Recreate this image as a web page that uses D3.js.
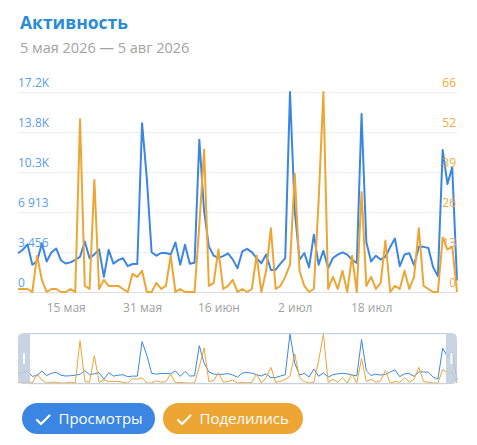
<!DOCTYPE html>
<html>
<head>
<meta charset="utf-8">
<script src="https://cdn.jsdelivr.net/npm/d3@7"></script>
<style>
  html, body { margin: 0; padding: 0; background: #fff; }
  svg { display: block; font-family: "Open Sans", "Noto Sans", sans-serif; }
</style>
</head>
<body>
<svg id="chart" width="477" height="445"></svg>
<script>
// ---- data ----
const title = "Активность";
const subtitle = "5 мая 2026 — 5 авг 2026";
const startDate = "2026-05-05";
const seriesNames = ["Просмотры", "Поделились"];
const views = [3350, 3650, 4120, 2350, 2650, 4200, 2630, 3420, 3760, 2740,
  2460, 2560, 2780, 3040, 4360, 2920, 3250, 3670, 1310, 3640,
  2450, 2750, 2920, 2230, 2420, 2420, 14590, 9800, 3430, 3140,
  3370, 3370, 3240, 4280, 2350, 4080, 2450, 2520, 13150, 7000,
  3930, 3140, 2950, 3100, 3330, 2820, 2050, 3500, 3730, 3450,
  2920, 2490, 3240, 1900, 1930, 2450, 2920, 17282, 7000, 2790,
  3370, 2130, 4950, 2360, 3570, 2070, 2940, 3230, 3430, 3230,
  2790, 2510, 15380, 4290, 2640, 3140, 2800, 3050, 3880, 4620,
  2230, 3240, 3350, 2320, 3900, 3900, 3810, 2130, 1370, 12280,
  9330, 10770, 1000];
const shares = [1, 1, 1, 0, 12, 4, 0, 1, 1, 0,
  0, 1, 0, 57, 2, 1, 37, 1, 4, 2,
  2, 2, 1, 0, 6, 5, 7, 0, 0, 3,
  1, 2, 12, 0, 1, 0, 0, 0, 22, 47,
  2, 3, 14, 1, 2, 4, 0, 1, 0, 1,
  12, 0, 7, 21, 1, 2, 5, 9, 39, 7,
  2, 0, 1, 30, 66, 1, 5, 1, 7, 0,
  12, 0, 33, 2, 5, 1, 3, 17, 0, 2,
  1, 7, 1, 5, 21, 2, 1, 0, 0, 18,
  14, 15, 0];
const xTickDates = ["2026-05-15", "2026-05-31", "2026-06-16", "2026-07-02", "2026-07-18"];
const xTickLabels = ["15 мая", "31 мая", "16 июн", "2 июл", "18 июл"];
const leftTickLabels = ["0", "3 456", "6 913", "10.3K", "13.8K", "17.2K"];
const rightTickLabels = ["0", "13", "26", "39", "52", "66"];

// ---- styles ----
const blue = "#3b86e2", orange = "#eda533";
const svg = d3.select("#chart");
const plot = {left: 18, right: 457, top: 92, bottom: 292};
const nav = {top: 333, bottom: 384, left: 18, right: 457};

const parse = d3.utcParse("%Y-%m-%d");
const t0 = parse(startDate);
const dates = views.map((_, i) => d3.utcDay.offset(t0, i));

const x = d3.scaleUtc().domain([dates[0], dates[dates.length - 1]]).range([plot.left, plot.right]);
const leftMax = d3.max(views), rightMax = d3.max(shares);
const yL = d3.scaleLinear().domain([0, leftMax]).range([plot.bottom, plot.top]);
const yR = d3.scaleLinear().domain([0, rightMax]).range([plot.bottom, plot.top]);

// title
svg.append("text").attr("x", 20).attr("y", 29).text(title)
  .attr("font-size", 17.5).attr("font-weight", 700).attr("fill", "#2a8bd6");
svg.append("text").attr("x", 20).attr("y", 53).text(subtitle)
  .attr("font-size", 14.5).attr("fill", "#a3a3a3");

// gridlines
const leftTicks = d3.range(6).map(k => k * leftMax / 5);
const rightTicks = d3.range(6).map(k => k * rightMax / 5);
svg.append("g").selectAll("line").data(leftTicks).join("line")
  .attr("x1", plot.left).attr("x2", plot.right)
  .attr("y1", d => Math.round(yL(d)) + 0.5).attr("y2", d => Math.round(yL(d)) + 0.5)
  .attr("stroke", (d, i) => i === 0 ? "#dedede" : "#eeeeee").attr("stroke-width", 1);

// lines
const lineL = d3.line().x((d, i) => x(dates[i])).y(d => yL(d));
const lineR = d3.line().x((d, i) => x(dates[i])).y(d => yR(d));
svg.append("path").datum(views).attr("d", lineL).attr("fill", "none")
  .attr("stroke", blue).attr("stroke-width", 2).attr("stroke-linejoin", "round");
svg.append("path").datum(shares).attr("d", lineR).attr("fill", "none")
  .attr("stroke", orange).attr("stroke-width", 2).attr("stroke-linejoin", "round");

// left axis labels
const axL = d3.axisRight(yL).tickValues(leftTicks).tickSize(0)
  .tickFormat((d, i) => leftTickLabels[i]);
const gL = svg.append("g").attr("transform", `translate(${plot.left},0)`).call(axL);
gL.select(".domain").remove();
gL.selectAll("text").attr("x", 0).attr("dy", "-6px").attr("text-anchor", "start")
  .attr("fill", "#5a9cec").attr("font-size", 12).attr("font-family", "Open Sans");

const axR = d3.axisLeft(yR).tickValues(rightTicks).tickSize(0)
  .tickFormat((d, i) => rightTickLabels[i]);
const gR = svg.append("g").attr("transform", `translate(${plot.right - 1},0)`).call(axR);
gR.select(".domain").remove();
gR.selectAll("text").attr("x", 0).attr("dy", "-6px").attr("text-anchor", "end")
  .attr("fill", "#f0ab45").attr("font-size", 12).attr("font-family", "Open Sans");

// x axis
const axX = d3.axisBottom(x).tickValues(xTickDates.map(parse)).tickSize(0)
  .tickFormat((d, i) => xTickLabels[i]);
const gX = svg.append("g").attr("transform", `translate(0,${plot.bottom})`).call(axX);
gX.select(".domain").remove();
gX.selectAll("text").attr("y", 0).attr("dy", "20px").attr("fill", "#a0a0a0")
  .attr("font-size", 12).attr("font-family", "Open Sans");

// navigator
const yNL = d3.scaleLinear().domain([0, leftMax]).range([nav.bottom - 1, nav.top + 1]);
const yNR = d3.scaleLinear().domain([0, rightMax]).range([nav.bottom - 1, nav.top + 1]);
const xN = x.copy().range([nav.left, nav.right]);
svg.append("path").datum(views)
  .attr("d", d3.line().x((d, i) => xN(dates[i])).y(d => yNL(d)))
  .attr("fill", "none").attr("stroke", blue).attr("stroke-width", 1);
svg.append("path").datum(shares)
  .attr("d", d3.line().x((d, i) => xN(dates[i])).y(d => yNR(d)))
  .attr("fill", "none").attr("stroke", orange).attr("stroke-width", 1);

const hL = 30, hR = 446;
const handleFill = "rgb(190,205,221)";
svg.append("rect").attr("x", hL).attr("y", nav.top).attr("width", hR - hL).attr("height", 1.2)
  .attr("fill", handleFill).attr("opacity", 0.9);
svg.append("rect").attr("x", hL).attr("y", nav.bottom - 1).attr("width", hR - hL).attr("height", 1.2)
  .attr("fill", handleFill).attr("opacity", 0.9);
function handle(x0, x1, leftSide) {
  const r = 6, t = nav.top, b = nav.bottom;
  let p;
  if (leftSide) {
    p = `M${x1},${t} L${x0 + r},${t} Q${x0},${t} ${x0},${t + r} L${x0},${b - r} Q${x0},${b} ${x0 + r},${b} L${x1},${b} Z`;
  } else {
    p = `M${x0},${t} L${x1 - r},${t} Q${x1},${t} ${x1},${t + r} L${x1},${b - r} Q${x1},${b} ${x1 - r},${b} L${x0},${b} Z`;
  }
  svg.append("path").attr("d", p).attr("fill", handleFill).attr("opacity", 0.85);
  const cx = (x0 + x1) / 2;
  svg.append("rect").attr("x", cx - 1).attr("y", 353).attr("width", 2).attr("height", 11)
    .attr("rx", 1).attr("fill", "#fff");
}
handle(nav.left, hL, true);
handle(hR, nav.right, false);

// legend buttons
const legend = [
  {name: seriesNames[0], color: blue, x: 22, w: 133},
  {name: seriesNames[1], color: orange, x: 163, w: 140}
];
const lg = svg.append("g");
legend.forEach(l => {
  const g = lg.append("g").attr("transform", `translate(${l.x},403)`);
  g.append("rect").attr("width", l.w).attr("height", 31).attr("rx", 15.5).attr("fill", l.color);
  g.append("path").attr("d", "M15,17 l4,4 l8.5,-8.5").attr("fill", "none")
    .attr("stroke", "#fff").attr("stroke-width", 2.2).attr("stroke-linecap", "round").attr("stroke-linejoin", "round");
  g.append("text").attr("x", 36.5).attr("y", 21).text(l.name)
    .attr("fill", "#fff").attr("font-size", 15).attr("font-family", "Open Sans");
});
</script>
</body>
</html>
